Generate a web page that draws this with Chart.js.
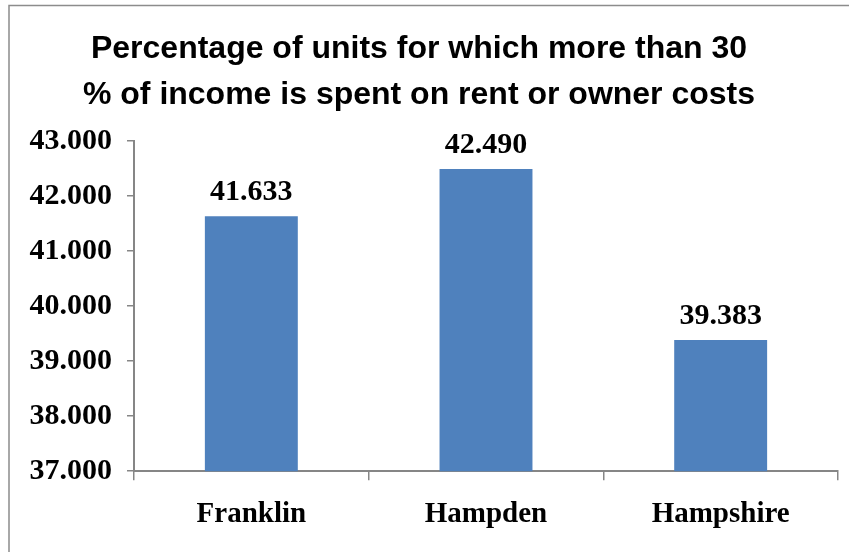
<!DOCTYPE html>
<html>
<head>
<meta charset="utf-8">
<script src="https://cdn.jsdelivr.net/npm/chart.js@4"></script>
<style>
  html, body { margin: 0; padding: 0; background: #fff; }
  #wrap { position: relative; width: 849px; height: 552px; }
</style>
</head>
<body>
<div id="wrap"><canvas id="chart" width="849" height="552"></canvas></div>
<script>
// Data
const counties = ['Franklin', 'Hampden', 'Hampshire'];
const shareOver30 = [41.633, 42.490, 39.383];
const titleLines = ['Percentage of units for which more than 30', '% of income is spent on rent or owner costs'];

const AXIS_GREY = '#868686';
const BAR_BLUE = '#4F81BD';
const serifBold = (size) => ({ family: '"Liberation Serif", "Times New Roman", serif', size, weight: 'bold' });

// frame round the whole chart (only top and left edges show)
const framePlugin = {
    id: 'frame',
    beforeDraw(chart) {
        const { ctx } = chart;
        ctx.save();
        ctx.strokeStyle = '#8c8c8c';
        ctx.lineWidth = 1.5;
        ctx.strokeRect(9, 5.5, 900, 600);
        ctx.restore();
    }
};

// value labels over each bar
const valueLabels = {
    id: 'valueLabels',
    afterDatasetsDraw(chart) {
        const { ctx } = chart;
        const meta = chart.getDatasetMeta(0);
        ctx.save();
        ctx.font = 'bold 30px "Liberation Serif", "Times New Roman", serif';
        ctx.fillStyle = '#000';
        ctx.textAlign = 'center';
        ctx.textBaseline = 'bottom';
        meta.data.forEach((bar, i) => {
            ctx.fillText(shareOver30[i].toFixed(3), bar.x, bar.y - 9);
        });
        ctx.restore();
    }
};

new Chart(document.getElementById('chart'), {
    type: 'bar',
    data: {
        labels: counties,
        datasets: [{
            data: shareOver30,
            backgroundColor: BAR_BLUE,
            borderWidth: 0,
            barPercentage: 0.396,
            categoryPercentage: 1
        }]
    },
    options: {
        responsive: false,
        animation: false,
        layout: { padding: { left: 0, right: 11, top: 0, bottom: 3 } },
        plugins: {
            legend: { display: false },
            tooltip: { enabled: false },
            title: {
                display: true,
                text: titleLines,
                color: '#000',
                font: { family: '"Liberation Sans", Arial, sans-serif', size: 32, weight: 'bold', lineHeight: 1.4375 },
                padding: { top: 26, bottom: 23 }
            }
        },
        scales: {
            x: {
                grid: {
                    offset: true,
                    drawOnChartArea: false,
                    drawTicks: true,
                    tickLength: 9,
                    color: AXIS_GREY,
                    lineWidth: 1.5
                },
                border: { color: AXIS_GREY, width: 2 },
                ticks: { color: '#000', font: serifBold(29), padding: 17 }
            },
            y: {
                min: 37,
                max: 43,
                grid: {
                    drawOnChartArea: false,
                    drawTicks: true,
                    tickLength: 7,
                    color: AXIS_GREY,
                    lineWidth: 1.5
                },
                border: { color: AXIS_GREY, width: 2 },
                ticks: {
                    stepSize: 1,
                    color: '#000',
                    font: serifBold(30),
                    padding: 15,
                    callback: (v) => v.toFixed(3)
                },
                afterFit(scale) { scale.width = 134; }
            }
        }
    },
    plugins: [framePlugin, valueLabels]
});
</script>
</body>
</html>
